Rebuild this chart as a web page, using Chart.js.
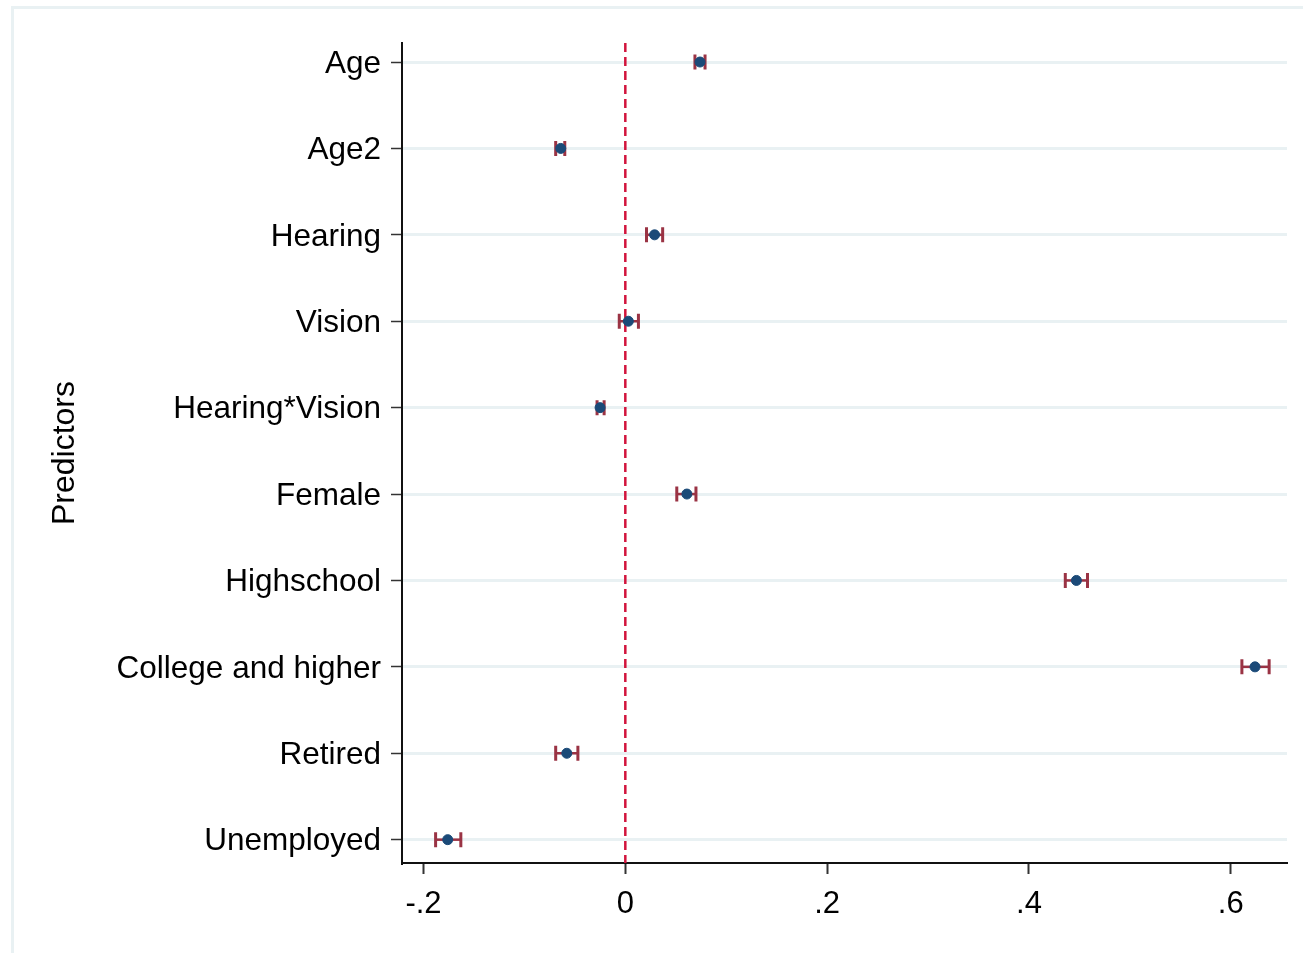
<!DOCTYPE html>
<html>
<head>
<meta charset="utf-8">
<script src="https://cdn.jsdelivr.net/npm/chart.js@4"></script>
<style>
  html, body { margin: 0; padding: 0; background: #fff; }
  #wrap { position: relative; width: 1303px; height: 953px; }
  #frame {
    position: absolute; left: 11px; top: 6px; right: 0; bottom: 0;
    border-left: 3px solid #e9f1f3; border-top: 3px solid #e9f1f3;
    pointer-events: none;
  }
  canvas { position: absolute; left: 0; top: 0; }
</style>
</head>
<body>
<div id="wrap">
  <canvas id="myChart" width="1303" height="953"></canvas>
  <div id="frame"></div>
</div>
<script>
// predictors, top to bottom
const predictors = ['Age', 'Age2', 'Hearing', 'Vision', 'Hearing*Vision',
  'Female', 'Highschool', 'College and higher', 'Retired', 'Unemployed'];

// point estimates and 95% CI
const coef  = [0.074, -0.064, 0.029, 0.003, -0.025, 0.061, 0.447, 0.624, -0.058, -0.176];
const ciLow = [0.069, -0.069, 0.021, -0.006, -0.028, 0.051, 0.436, 0.611, -0.069, -0.188];
const ciHigh = [0.079, -0.060, 0.037, 0.013, -0.021, 0.070, 0.458, 0.638, -0.047, -0.163];

const xTicks = [-0.2, 0, 0.2, 0.4, 0.6];
const xTickLabels = ['-.2', '0', '.2', '.4', '.6'];

const font = "'Liberation Sans', Arial, sans-serif";

// whiskers with caps, drawn under the dots
const errorBars = {
  id: 'errorBars',
  beforeDatasetsDraw(chart) {
    const ctx = chart.ctx;
    const x = chart.scales.x, y = chart.scales.y;
    ctx.save();
    ctx.strokeStyle = '#9a3344';
    for (let i = 0; i < coef.length; i++) {
      const yp = y.getPixelForValue(i);
      const x1 = x.getPixelForValue(ciLow[i]);
      const x2 = x.getPixelForValue(ciHigh[i]);
      ctx.lineWidth = 2.5;
      ctx.beginPath();
      ctx.moveTo(x1, yp); ctx.lineTo(x2, yp);
      ctx.stroke();
      ctx.lineWidth = 3;
      ctx.beginPath();
      ctx.moveTo(x1, yp - 7.5); ctx.lineTo(x1, yp + 7.5);
      ctx.moveTo(x2, yp - 7.5); ctx.lineTo(x2, yp + 7.5);
      ctx.stroke();
    }
    ctx.restore();
  }
};

const ctx = document.getElementById('myChart');
const chart = new Chart(ctx, {
  type: 'scatter',
  data: {
    datasets: [{
      type: 'line',
      data: [{x: 0, y: -0.22}, {x: 0, y: 9.27}],
      borderColor: '#d2143c',
      borderWidth: 2.5,
      borderDash: [9, 5],
      pointRadius: 0,
      order: 2
    }, {
      data: coef.map((v, i) => ({x: v, y: i})),
      backgroundColor: '#1b4a78',
      borderColor: '#1b4a78',
      pointRadius: 5,
      order: 1
    }]
  },
  options: {
    responsive: false,
    animation: false,
    devicePixelRatio: 1,
    layout: { padding: { top: 43, right: 16, left: 0, bottom: 0 } },
    plugins: { legend: { display: false }, tooltip: { enabled: false } },
    scales: {
      x: {
        type: 'linear',
        min: -0.2213,
        max: 0.6557,
        afterBuildTicks: (s) => { s.ticks = xTicks.map(v => ({value: v})); },
        afterFit: (s) => { s.height = 90; },
        ticks: {
          callback: (v) => xTickLabels[xTicks.indexOf(v)],
          font: { family: font, size: 31 },
          color: '#000',
          padding: 12,
          maxRotation: 0
        },
        grid: {
          drawOnChartArea: false,
          tickLength: 11,
          tickColor: '#333',
          tickWidth: 2
        },
        border: { color: '#111', width: 2 }
      },
      y: {
        type: 'linear',
        reverse: true,
        min: -0.22,
        max: 9.27,
        afterBuildTicks: (s) => { s.ticks = predictors.map((p, i) => ({value: i})); },
        afterFit: (s) => { s.width = 402; },
        ticks: {
          callback: (v) => predictors[v],
          font: { family: font, size: 31.5 },
          color: '#000',
          padding: 10,
          labelOffset: 2
        },
        grid: {
          color: '#e9f1f3',
          lineWidth: 3,
          tickLength: 11,
          tickColor: '#333',
          tickWidth: 1.5
        },
        border: { color: '#111', width: 2 },
        title: {
          display: true,
          text: 'Predictors',
          font: { family: font, size: 32 },
          color: '#000',
          padding: { top: 46, bottom: 0 }
        }
      }
    }
  },
  plugins: [errorBars]
});
</script>
</body>
</html>
